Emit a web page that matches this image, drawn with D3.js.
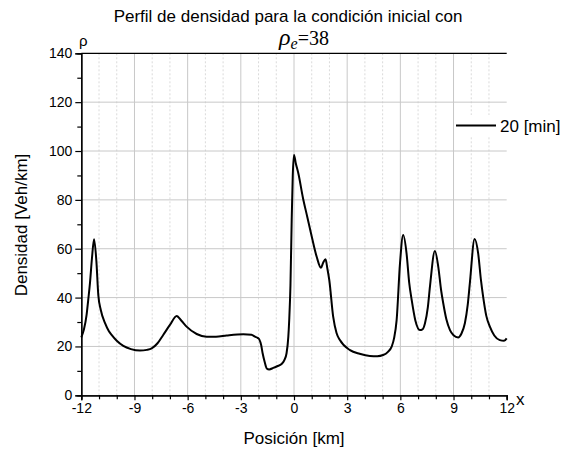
<!DOCTYPE html>
<html><head><meta charset="utf-8">
<script src="https://cdn.jsdelivr.net/npm/d3@7"></script>
<style>body{margin:0;background:#fff}svg{display:block}</style>
</head><body><svg id="c" width="566" height="456" font-family="Liberation Sans, Arial, sans-serif"></svg>
<script>
const posX = [-12,-11.85,-11.7,-11.61,-11.51,-11.4,-11.28,-11.15,-11.04,-10.9,-10.66,-10.45,-10.29,-10.0,-9.63,-9.2,-8.69,-8.3,-8.03,-7.7,-7.38,-7.0,-6.62,-6.35,-6.06,-5.49,-4.93,-4.4,-3.8,-2.86,-2.4,-2.2,-2.05,-1.96,-1.85,-1.77,-1.65,-1.54,-1.4,-1.17,-0.95,-0.7,-0.55,-0.42,-0.32,-0.27,-0.2,-0.13,-0.07,0.0,0.1,0.25,0.5,0.75,1.0,1.28,1.52,1.65,1.78,1.88,1.99,2.21,2.4,2.59,3.16,3.7,4.28,4.7,5.03,5.3,5.51,5.65,5.79,5.98,6.16,6.35,6.5,6.64,6.85,7.1,7.25,7.39,7.55,7.67,7.95,8.14,8.3,8.42,8.6,8.8,9.0,9.26,9.45,9.64,9.8,9.92,10.19,10.39,10.55,10.67,10.85,11.05,11.3,11.61,11.85,12];
const densidad = [23.7,27,33,39,46,56,63.9,55,41,34.9,29.5,26.3,24.7,22.3,20.2,18.9,18.3,18.6,19.2,21.3,24.7,28.8,32.5,30.5,28.1,25.1,24.0,24.0,24.5,25.0,24.8,24.0,23.5,22.9,20.5,17.2,13.5,11.0,10.6,11.2,11.9,12.8,14.3,17.2,24,30.8,45,71.8,90,98.4,95,90.7,81,73,65,56.7,52.2,54.4,55.7,52,47.2,32.2,25.5,22.6,18.5,17.0,16.1,16.0,16.5,17.8,19.9,23.5,30.8,54.0,65.6,58.1,46,39.0,30.5,26.7,27.0,29.5,36,44.5,59.1,52.6,43,37.7,31,26.7,24.6,23.7,25.3,29.5,37,45.8,64.0,58.1,47,40.4,32.5,28.1,24.5,22.6,22.3,23.3];
const xTicks = [-12,-9,-6,-3,0,3,6,9,12];
const yTicks = [0,20,40,60,80,100,120,140];
const seriesName = "20 [min]";

const svg = d3.select("#c");
const L=81.3, R=506.7, T=53.3, B=395.3;
const x = d3.scaleLinear().domain([-12,12]).range([L,R]);
const y = d3.scaleLinear().domain([0,140]).range([B,T]);

const g = svg.append("g");
g.selectAll(".vminor").data(d3.range(-11,12).filter(v=>v%3!==0)).join("line")
 .attr("x1",d=>x(d)).attr("x2",d=>x(d)).attr("y1",T).attr("y2",B)
 .attr("stroke","#dadada").attr("stroke-width",1).attr("stroke-dasharray","2,2");
g.selectAll(".vmajor").data(xTicks.filter(v=>v>-12&&v<12)).join("line")
 .attr("x1",d=>x(d)).attr("x2",d=>x(d)).attr("y1",T).attr("y2",B)
 .attr("stroke","#c8c8c8").attr("stroke-width",1);
g.selectAll(".hmajor").data(yTicks.filter(v=>v>0&&v<140)).join("line")
 .attr("x1",L).attr("x2",R).attr("y1",d=>y(d)).attr("y2",d=>y(d))
 .attr("stroke","#c8c8c8").attr("stroke-width",1);

svg.append("line").attr("x1",L).attr("x2",R).attr("y1",y(140)).attr("y2",y(140)).attr("stroke","#000").attr("stroke-width",1.3);

const fmt = d=>String(d);
const xAxis = d3.axisBottom(x).tickValues(xTicks).tickSize(5).tickPadding(3).tickFormat(fmt);
const xa = svg.append("g").attr("transform",`translate(0,${B})`).call(xAxis);
const xMinor = d3.axisBottom(x).tickValues(d3.range(-11,12).filter(v=>v%3!==0)).tickSize(4).tickFormat("");
const xm = svg.append("g").attr("transform",`translate(0,${B})`).call(xMinor);
const yAxis = d3.axisLeft(y).tickValues(yTicks).tickSize(6).tickPadding(3).tickFormat(fmt);
const ya = svg.append("g").attr("transform",`translate(${L},0)`).call(yAxis);
const yMinor = d3.axisLeft(y).tickValues(d3.range(10,140,20)).tickSize(4).tickFormat("");
const ym = svg.append("g").attr("transform",`translate(${L},0)`).call(yMinor);
[xa,xm,ya,ym].forEach(a=>{
  a.attr("font-family","Liberation Sans, Arial, sans-serif").attr("font-size",14);
  a.select(".domain").attr("stroke","#000").attr("stroke-width",1.3);
  a.selectAll(".tick line").attr("stroke","#000").attr("stroke-width",1.2);
  a.selectAll("text").attr("fill","#000");
});

const line = d3.line().x((d,i)=>x(posX[i])).y(d=>y(d)).curve(d3.curveMonotoneX);
svg.append("path").datum(densidad).attr("d",line).attr("fill","none").attr("stroke","#000").attr("stroke-width",2);

svg.append("rect").attr("x",455).attr("y",115).attr("width",110).attr("height",22).attr("fill","#fff");
svg.append("line").attr("x1",456).attr("x2",496).attr("y1",125.5).attr("y2",125.5).attr("stroke","#000").attr("stroke-width",2);
svg.append("text").attr("x",500).attr("y",131.5).attr("font-size",17).text(seriesName);

svg.append("text").attr("x",288).attr("y",22).attr("text-anchor","middle").attr("font-size",17).text("Perfil de densidad para la condición inicial con");
const t2 = svg.append("text").attr("x",304).attr("y",45).attr("text-anchor","middle").attr("font-family","Liberation Serif, Times New Roman, serif");
t2.append("tspan").attr("font-size",24).attr("font-style","italic").text("ρ");
t2.append("tspan").attr("font-size",16).attr("font-style","italic").attr("dy",4).text("e");
t2.append("tspan").attr("font-size",20).attr("dy",-4).text("=38");

svg.append("text").attr("x",79).attr("y",46).attr("font-size",15).text("ρ");
svg.append("text").attr("x",516).attr("y",405).attr("font-size",17).text("x");
svg.append("text").attr("x",294).attr("y",444).attr("text-anchor","middle").attr("font-size",17).text("Posición [km]");
svg.append("text").attr("transform","translate(27,225) rotate(-90)").attr("text-anchor","middle").attr("font-size",17).text("Densidad [Veh/km]");
</script></body></html>
